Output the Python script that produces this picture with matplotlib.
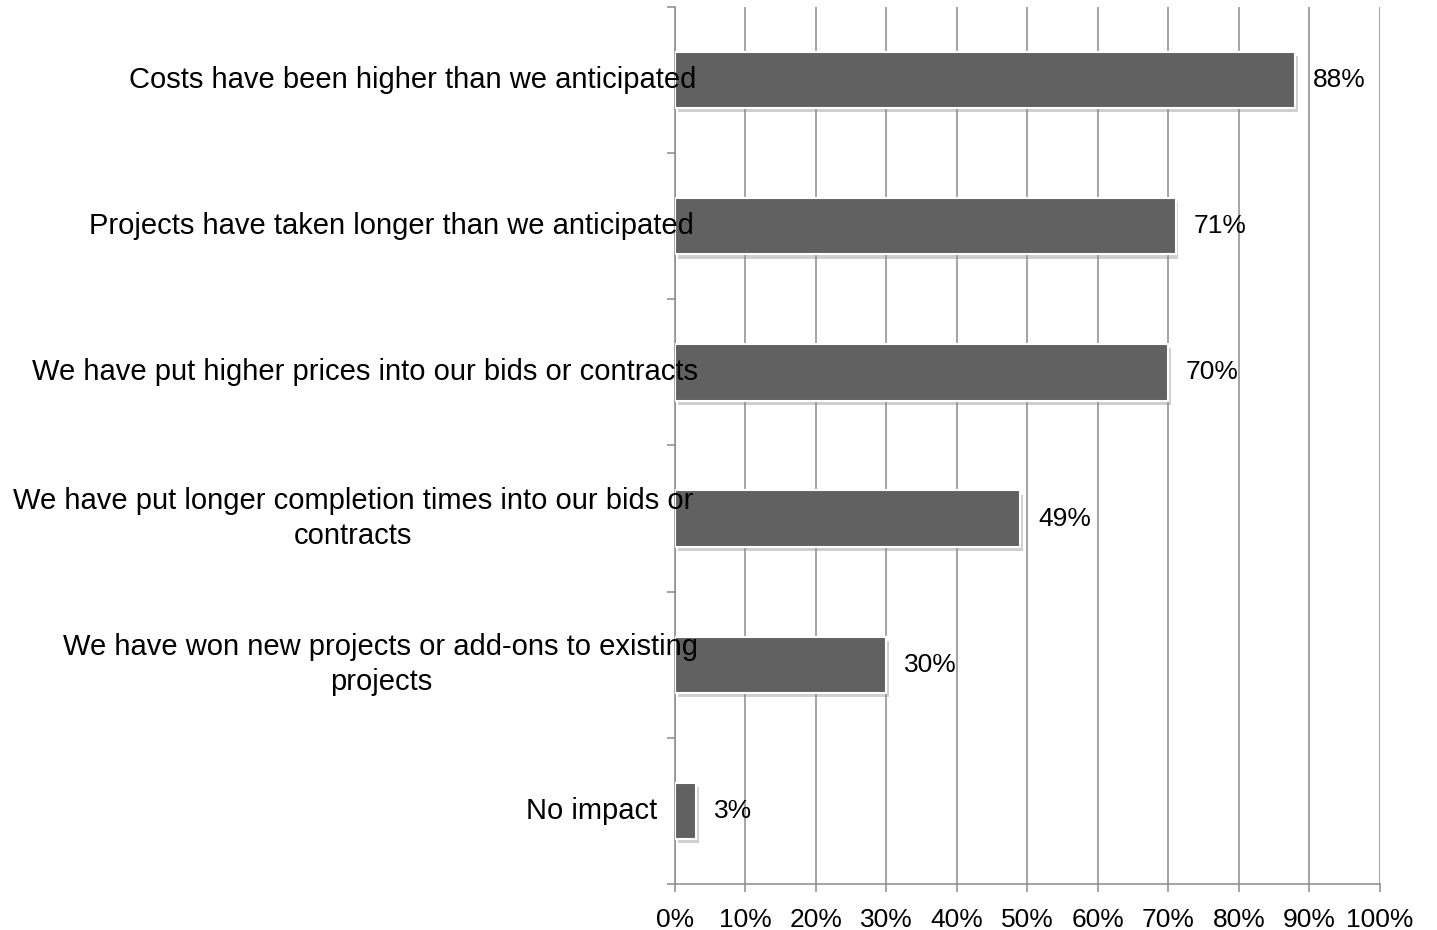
import numpy as np
import matplotlib.pyplot as plt
import matplotlib.patheffects as pe

plt.rcParams['font.family'] = ['Liberation Sans', 'DejaVu Sans']

# data
categories = [
    'Costs have been higher than we anticipated',
    'Projects have taken longer than we anticipated',
    'We have put higher prices into our bids or contracts',
    'We have put longer completion times into our bids or\ncontracts',
    'We have won new projects or add-ons to existing\nprojects',
    'No impact',
]
values = [88, 71, 70, 49, 30, 3]
x_ticks = list(range(0, 101, 10))
x_tick_labels = [f'{t}%' for t in x_ticks]

# label right edge in axes fraction (labels overflow onto the bars like in the original)
label_right = [0.031, 0.027, 0.033, 0.026, 0.033, -0.025]

bar_color = '#616161'
grid_color = '#8c8c8c'

fig = plt.figure(figsize=(14.37, 9.3), dpi=100)
ax = fig.add_axes([0.4697, 0.0495, 0.4906, 0.943])

n = len(categories)
y = np.arange(n)

ax.barh(y, values, height=0.385, color=bar_color, edgecolor='white', linewidth=1.5, zorder=3,
        path_effects=[pe.SimplePatchShadow(offset=(2, -3), shadow_rgbFace='#888888', alpha=0.4),
                      pe.Normal()])

ax.set_xlim(0, 100)
ax.set_ylim(n - 0.5, -0.5)

ax.set_xticks(x_ticks)
ax.set_xticklabels(x_tick_labels, fontsize=19)
ax.xaxis.grid(True, color=grid_color, linewidth=1.1, zorder=0)
ax.set_axisbelow(True)

# category boundaries as ticks on the left
ax.set_yticks(np.arange(-0.5, n, 1.0))
ax.set_yticklabels([])

ax.tick_params(axis='x', direction='out', length=6, width=1.1, color=grid_color, pad=11)
ax.tick_params(axis='y', direction='out', length=6, width=1.1, color=grid_color)

for s in ['top', 'right']:
    ax.spines[s].set_visible(False)
for s in ['left', 'bottom']:
    ax.spines[s].set_color(grid_color)
    ax.spines[s].set_linewidth(1.1)

for i, (cat, v) in enumerate(zip(categories, values)):
    ax.text(label_right[i], i, cat, transform=ax.get_yaxis_transform(),
            ha='right', va='center', multialignment='center', fontsize=21,
            linespacing=1.3, zorder=5, clip_on=False)
    ax.text(v + 2.5, i, f'{v}%', ha='left', va='center', fontsize=19, zorder=5)

fig.savefig('out.png', dpi=100)
